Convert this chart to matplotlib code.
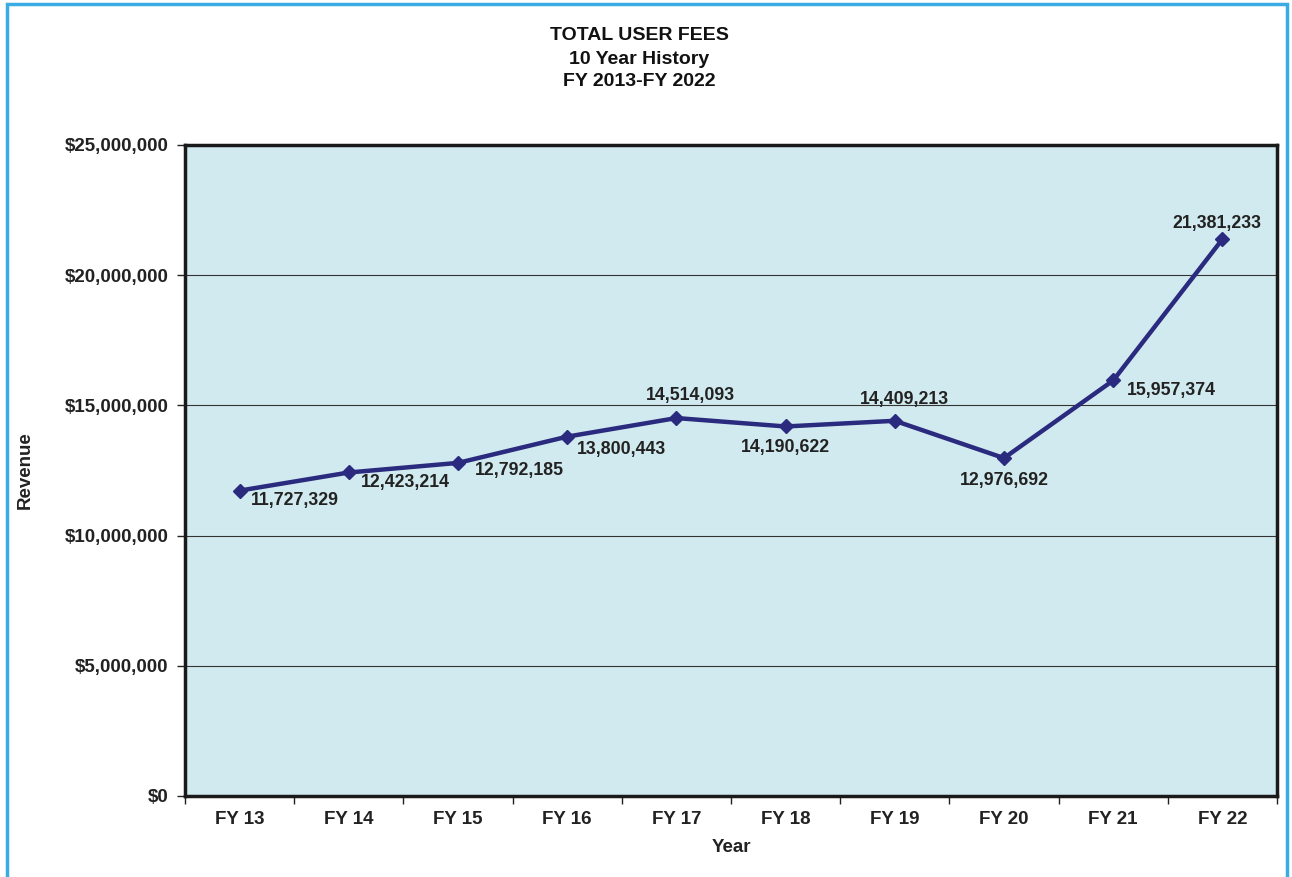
import matplotlib.pyplot as plt
import matplotlib.ticker as ticker
from matplotlib.patches import Rectangle

plt.rcParams['font.family'] = ['Liberation Sans', 'DejaVu Sans']
plt.rcParams['font.weight'] = 'bold'
plt.rcParams['axes.labelweight'] = 'bold'

years = ['FY 13', 'FY 14', 'FY 15', 'FY 16', 'FY 17',
         'FY 18', 'FY 19', 'FY 20', 'FY 21', 'FY 22']
fees = [11727329, 12423214, 12792185, 13800443, 14514093,
        14190622, 14409213, 12976692, 15957374, 21381233]

# label placement: offset in points plus alignment
label_style = [
    (8, -1, 'left', 'top'),
    (9, -1, 'left', 'top'),
    (12, 1, 'left', 'top'),
    (7, -3, 'left', 'top'),
    (10, 10, 'center', 'bottom'),
    (0, -9, 'center', 'top'),
    (7, 9, 'center', 'bottom'),
    (0, -10, 'center', 'top'),
    (10, -1, 'left', 'top'),
    (-4, 5, 'center', 'bottom'),
]

fig = plt.figure(figsize=(12.92, 8.77), dpi=100)
ax = fig.add_axes([185 / 1292, 1 - 796 / 877, 1092 / 1292, 651 / 877])

# light blue frame around the whole picture
fig.patches.append(Rectangle((7 / 1292, -0.01), 1280 / 1292, 1 - 4 / 877 + 0.01,
                             transform=fig.transFigure, fill=False,
                             edgecolor='#3AACE4', linewidth=2.5))

ax.set_facecolor('#D1EAEF')
x = list(range(len(years)))
ax.plot(x, fees, color='#2A2A7F', linewidth=3.2, marker='D', markersize=7.5, zorder=3)

for i, v in enumerate(fees):
    dx, dy, ha, va = label_style[i]
    ax.annotate('{:,}'.format(v), (i, v), xytext=(dx, dy), textcoords='offset points',
                ha=ha, va=va, fontsize=12.8, color='#222222')

ax.set_xlim(-0.5, len(years) - 0.5)
ax.set_ylim(0, 25000000)
ax.yaxis.set_major_locator(ticker.MultipleLocator(5000000))
ax.yaxis.set_major_formatter(ticker.FuncFormatter(lambda v, p: '${:,.0f}'.format(v)))
ax.grid(axis='y', color='#333333', linewidth=0.8)
ax.set_axisbelow(True)

ax.set_xticks([i - 0.5 for i in range(len(years) + 1)])
ax.set_xticklabels([])
ax.set_xticks(x, minor=True)
ax.set_xticklabels(years, minor=True)
ax.tick_params(axis='x', which='major', length=6, width=1, color='#222222', direction='out')
ax.tick_params(axis='x', which='minor', length=0, pad=11, labelsize=13.5, labelcolor='#222222')
ax.tick_params(axis='y', length=6, width=1, color='#222222', labelsize=13.5,
               labelcolor='#222222', pad=6)

for s in ax.spines.values():
    s.set_linewidth(2.5)
    s.set_color('#1a1a1a')

ax.set_xlabel('Year', fontsize=13.5, color='#222222', labelpad=8)
ax.set_ylabel('Revenue', fontsize=13.5, color='#222222', labelpad=22)

for k, line in enumerate(['TOTAL USER FEES', '10 Year History', 'FY 2013-FY 2022']):
    fig.text(0.495, 1 - (36 + 23 * k) / 877, line, ha='center', va='center',
             fontsize=14, color='#111111')

fig.savefig('out.png', dpi=100, facecolor='white')
